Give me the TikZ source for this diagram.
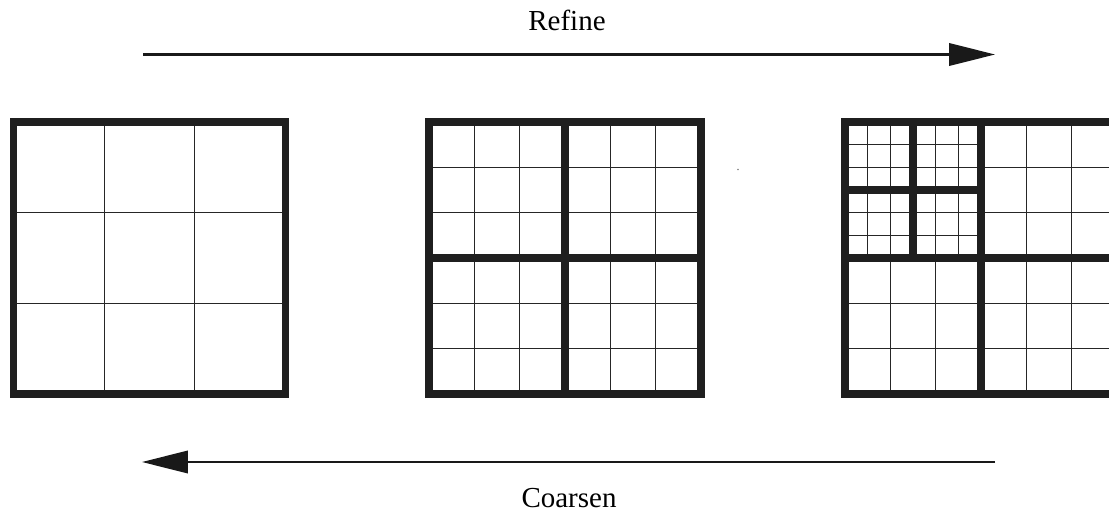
\documentclass[tikz,border=0pt]{standalone}
\usepackage{fontspec}
\setmainfont{Liberation Serif}
\usetikzlibrary{arrows.meta}
% one block of 3x3 cells: x, y, size (in pixels of the layout)
\newcommand{\cellblock}[3]{%
  \foreach \i in {1,2} {
    \draw[gridline] ({#1+\i*#3/3},#2) -- ++(0,#3);
    \draw[gridline] (#1,{#2+\i*#3/3}) -- ++(#3,0);
  }
  \draw[blockline] (#1,#2) rectangle ++(#3,#3);
}
\tikzset{
  gridline/.style={line width=0.55pt,black!85},
  blockline/.style={line width=4pt,black!88,line join=miter},
  bigarrow/.style={line width=1.2pt,black!90,-{Triangle[length=0.92cm,width=0.45cm]}},
  caption/.style={font=\fontsize{16.5}{20}\selectfont,anchor=base}
}
\begin{document}
\begin{tikzpicture}[x=0.02cm,y=-0.02cm]
  \clip (0,0) rectangle (1109,511);
  \fill[white] (0,0) rectangle (1109,511);

  \node[caption] (refine) at (567,30.5) {Refine};
  \node[caption] (coarsen) at (569,507) {Coarsen};

  \coordinate (rstart) at (143,54.5);
  \coordinate (rend) at (995,54.5);
  \coordinate (cstart) at (995,462);
  \coordinate (cend) at (142,462);
  \draw[bigarrow] (rstart) -- (rend);
  \draw[bigarrow] (cstart) -- (cend);

  % coarse mesh
  \cellblock{13.5}{122}{272}

  % refined once
  \cellblock{429}{122}{136}
  \cellblock{565}{122}{136}
  \cellblock{429}{258}{136}
  \cellblock{565}{258}{136}

  % refined twice in the upper left
  \cellblock{845}{122}{68}
  \cellblock{913}{122}{68}
  \cellblock{845}{190}{68}
  \cellblock{913}{190}{68}
  \cellblock{981}{122}{136}
  \cellblock{845}{258}{136}
  \cellblock{981}{258}{136}
  \draw[blockline] (845,122) rectangle (1117,393.5);

  \fill[black!50] (738,169.5) circle (0.9);
\end{tikzpicture}
\end{document}
